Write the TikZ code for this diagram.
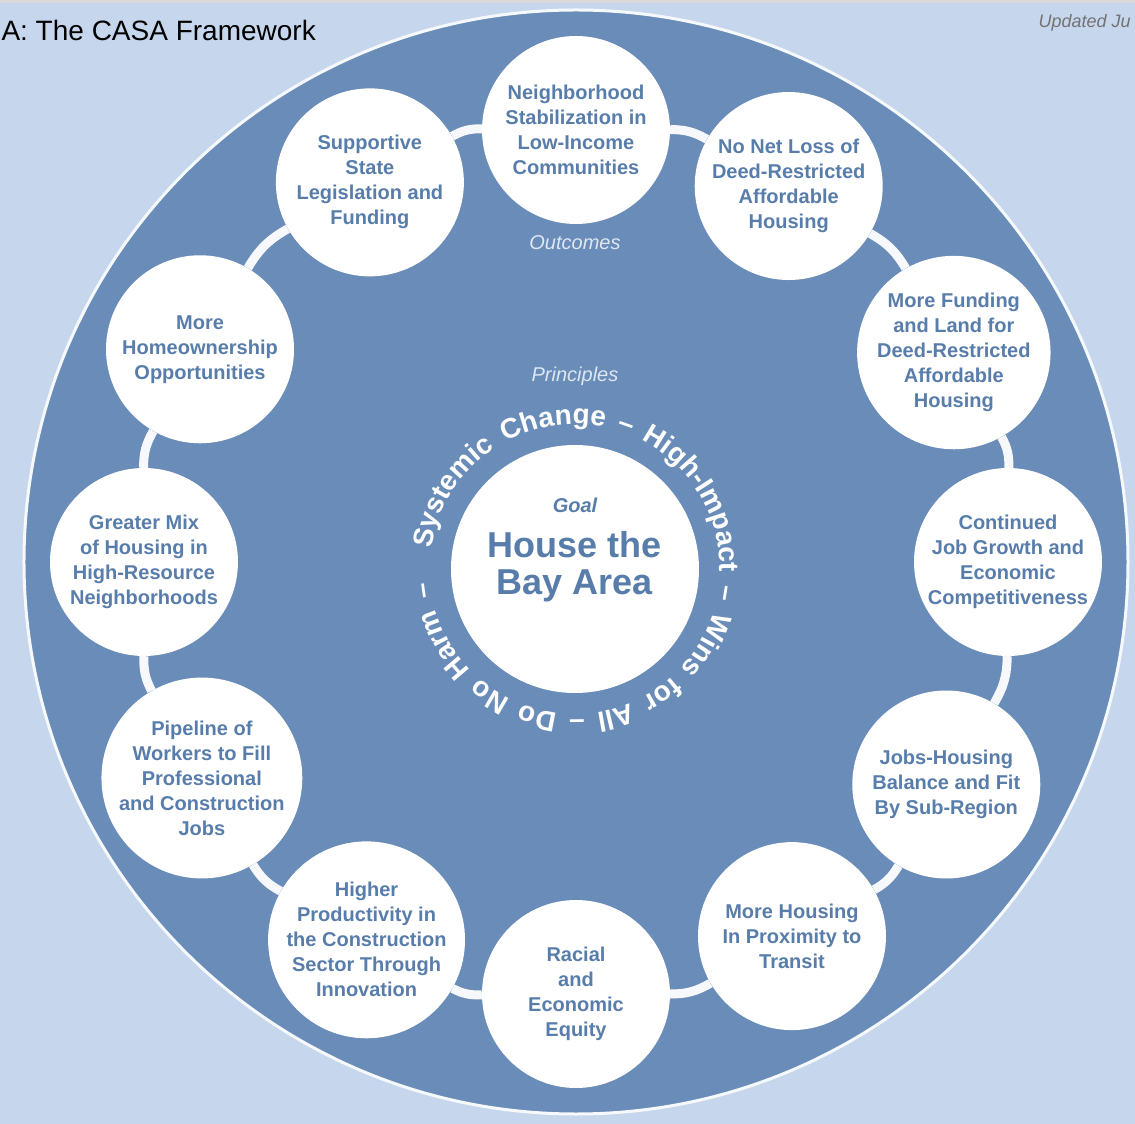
\documentclass[tikz,border=0pt]{standalone}
\usepackage{fontspec}
\setmainfont{Liberation Sans}
\usepackage{tikz}
\usetikzlibrary{decorations.text}

\definecolor{bgblue}{RGB}{198,214,236}
\definecolor{discblue}{RGB}{106,140,184}
\definecolor{textblue}{RGB}{88,125,170}
\definecolor{paleblue}{RGB}{222,231,242}

\begin{document}
\begin{tikzpicture}[x=1pt,y=1pt,
  outcome/.style={circle, fill=white, minimum size=188pt, inner sep=0pt, align=center,
    text=textblue, font=\fontsize{20}{25}\selectfont\bfseries},
  ringline/.style={draw=white!94!discblue, line width=9pt},
  tag/.style={font=\fontsize{20}{24}\selectfont\itshape, anchor=base}]

  % background and frame line
  \useasboundingbox[fill=bgblue] (-576,-562) rectangle (559,562);
  \fill[gray!30] (-576,559) rectangle (559,562);

  % big disc
  \filldraw[fill=discblue, draw=white!85!bgblue, line width=3pt] (0,0) circle (552);

  % header texts
  \node[anchor=base west, font=\fontsize{28}{30}\selectfont] (title) at (-578,521) {A: The CASA Framework};
  \node[anchor=base west, font=\fontsize{18}{20}\selectfont\itshape, text=black!55] (updated) at (459,534) {Updated Ju};

  % goal
  \node[circle, fill=white, minimum size=248pt, inner sep=0pt] (goal) at (-1,-7) {};
  \node[tag, font=\fontsize{20}{24}\selectfont\bfseries\itshape, text=textblue] (goaltag) at (-1,49) {Goal};
  \node[font=\fontsize{36}{37}\selectfont\bfseries, text=textblue, align=center] (goaltext) at (-1,-5) {House the\\Bay Area};

  % principles round the goal
  \path[decorate, decoration={text along path,
      text={|\fontsize{28}{28}\selectfont\bfseries\color{white}|Systemic Change – High-Impact – Wins for All – Do No Harm –},
      text align=fit to path stretching spaces}]
    ([shift={(172:145)}]goal.center) arc[start angle=172, end angle=-175, radius=145];

  \node[tag, text=paleblue] (outlabel) at (-1,312) {Outcomes};
  \node[tag, text=paleblue] (prilabel) at (-1,180) {Principles};

  % outcomes
  \foreach \ang/\txt [count=\i] in {
      90/{Neighborhood\\Stabilization in\\Low-Income\\Communities},
      60.5/{No Net Loss of\\Deed-Restricted\\Affordable\\Housing},
      29/{More Funding\\and Land for\\Deed-Restricted\\Affordable\\Housing},
      0/{Continued\\Job Growth and\\Economic\\Competitiveness},
      -31/{Jobs-Housing\\Balance and Fit\\By Sub-Region},
      -60/{More Housing\\In Proximity to\\Transit},
      -90/{Racial\\and\\Economic\\Equity},
      -119/{Higher\\Productivity in\\the Construction\\Sector Through\\Innovation},
      -150/{Pipeline of\\Workers to Fill\\Professional\\and Construction\\Jobs},
      180/{Greater Mix\\of Housing in\\High-Resource\\Neighborhoods},
      150.5/{More\\Homeownership\\Opportunities},
      118.5/{Supportive\\State\\Legislation and\\Funding}}
    \node[outcome] (o\i) at (\ang:432) {\txt};

  % ring between outcomes
  \foreach \i in {1,...,12} {
    \pgfmathtruncatemacro{\j}{mod(\i,12)+1}
    \draw[ringline] (o\i) to[bend left=15] (o\j);
  }
\end{tikzpicture}
\end{document}
